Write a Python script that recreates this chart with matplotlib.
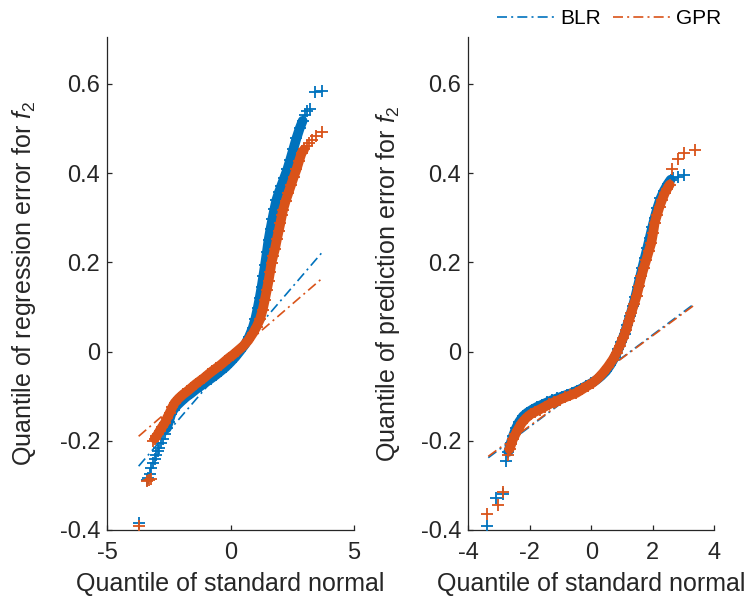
import numpy as np
import matplotlib
matplotlib.use("Agg")
import matplotlib.pyplot as plt

plt.rcParams['font.family'] = ['Liberation Sans', 'DejaVu Sans']
plt.rcParams['mathtext.fontset'] = 'custom'
plt.rcParams['mathtext.rm'] = 'Liberation Sans'
plt.rcParams['mathtext.it'] = 'Liberation Sans:italic'
plt.rcParams['axes.unicode_minus'] = False

BLUE = '#0072BD'
ORANGE = '#D95319'
DARK = '#262626'

# ---- left panel: regression error (theoretical quantile, sample quantile)
reg_blr_x = [-3.72, -3.40, -3.33, -3.27, -3.20, -3.13, -3.07, -3.00, -2.94, -2.89,
             -2.80, -2.72, -2.66, -2.58, -2.50, -2.40, -2.30, -2.15, -2.00, -1.80,
             -1.60, -1.40, -1.20, -1.00, -0.80, -0.60, -0.40, -0.20, 0.00, 0.20,
             0.40, 0.60, 0.75, 0.90, 1.00, 1.10, 1.18, 1.26, 1.33, 1.40,
             1.47, 1.54, 1.62, 1.70, 1.78, 1.86, 1.96, 2.06, 2.18, 2.30,
             2.42, 2.55, 2.67, 2.80, 2.92, 3.02, 3.10, 3.21, 3.42, 3.69]
reg_blr_y = [-0.385, -0.287, -0.283, -0.275, -0.260, -0.250, -0.242, -0.231, -0.224, -0.216,
             -0.205, -0.196, -0.186, -0.172, -0.158, -0.140, -0.130, -0.120, -0.112, -0.102,
             -0.094, -0.085, -0.077, -0.069, -0.061, -0.053, -0.044, -0.035, -0.024, -0.012,
             0.002, 0.017, 0.033, 0.053, 0.072, 0.097, 0.120, 0.145, 0.170, 0.195,
             0.222, 0.250, 0.275, 0.298, 0.320, 0.340, 0.357, 0.372, 0.390, 0.408,
             0.430, 0.455, 0.478, 0.500, 0.517, 0.530, 0.538, 0.543, 0.581, 0.585]

reg_gpr_x = [-3.72, -3.40, -3.30, -3.20, -3.14, -3.07, -3.00, -2.93, -2.87, -2.78,
             -2.66, -2.56, -2.46, -2.36, -2.26, -2.10, -1.92, -1.75, -1.58, -1.41,
             -1.24, -1.07, -0.90, -0.74, -0.57, -0.40, -0.23, -0.06, 0.11, 0.30,
             0.51, 0.72, 0.92, 1.06, 1.19, 1.30, 1.39, 1.47, 1.54, 1.60,
             1.66, 1.73, 1.80, 1.88, 1.95, 2.02, 2.08, 2.13, 2.23, 2.34,
             2.45, 2.56, 2.67, 2.78, 2.88, 2.98, 3.08, 3.18, 3.28, 3.46, 3.69]
reg_gpr_y = [-0.390, -0.290, -0.288, -0.285, -0.200, -0.195, -0.190, -0.184, -0.178, -0.170,
             -0.160, -0.148, -0.137, -0.125, -0.115, -0.105, -0.096, -0.089, -0.081, -0.073,
             -0.066, -0.059, -0.051, -0.044, -0.037, -0.030, -0.022, -0.014, -0.007, 0.002,
             0.012, 0.025, 0.042, 0.056, 0.072, 0.093, 0.116, 0.138, 0.158, 0.178,
             0.199, 0.215, 0.230, 0.252, 0.270, 0.288, 0.305, 0.318, 0.337, 0.355,
             0.373, 0.391, 0.408, 0.428, 0.445, 0.453, 0.460, 0.468, 0.475, 0.482, 0.491]

# reference lines (end points of the fitted quartile lines)
reg_blr_line_x = [-3.72, 3.69]
reg_blr_line_y = [-0.257, 0.221]
reg_gpr_line_x = [-3.72, 3.71]
reg_gpr_line_y = [-0.190, 0.164]

# ---- right panel: prediction error
pred_blr_x = [-3.38, -3.10, -2.88, -2.77, -2.70, -2.62, -2.55, -2.45, -2.35, -2.22,
              -2.08, -1.92, -1.76, -1.60, -1.44, -1.28, -1.12, -0.96, -0.80, -0.64,
              -0.48, -0.32, -0.16, 0.00, 0.16, 0.32, 0.48, 0.62, 0.76, 0.88,
              0.98, 1.08, 1.17, 1.26, 1.35, 1.43, 1.51, 1.58, 1.66, 1.74,
              1.82, 1.90, 1.98, 2.06, 2.15, 2.25, 2.36, 2.48, 2.58, 2.66, 2.82, 3.01]
pred_blr_y = [-0.391, -0.328, -0.320, -0.246, -0.225, -0.205, -0.190, -0.172, -0.158, -0.145,
              -0.137, -0.130, -0.124, -0.119, -0.114, -0.109, -0.105, -0.101, -0.097, -0.093,
              -0.088, -0.083, -0.077, -0.071, -0.064, -0.055, -0.044, -0.030, -0.013, 0.005,
              0.022, 0.040, 0.060, 0.080, 0.101, 0.122, 0.145, 0.165, 0.188, 0.210,
              0.232, 0.255, 0.278, 0.300, 0.322, 0.343, 0.360, 0.375, 0.385, 0.389, 0.391, 0.396]

pred_gpr_x = [-3.38, -3.04, -2.88, -2.72, -2.66, -2.60, -2.55, -2.47, -2.39, -2.26,
              -2.12, -1.96, -1.82, -1.68, -1.52, -1.36, -1.20, -1.03, -0.86, -0.68,
              -0.49, -0.30, -0.12, 0.05, 0.22, 0.38, 0.54, 0.70, 0.82, 0.92,
              1.03, 1.14, 1.22, 1.30, 1.39, 1.47, 1.55, 1.63, 1.71, 1.79,
              1.87, 1.95, 2.01, 2.06, 2.14, 2.22, 2.30, 2.39, 2.47, 2.55,
              2.61, 2.82, 3.01, 3.36]
pred_gpr_y = [-0.365, -0.345, -0.315, -0.232, -0.219, -0.207, -0.197, -0.186, -0.175, -0.160,
              -0.149, -0.140, -0.135, -0.130, -0.124, -0.118, -0.113, -0.108, -0.103, -0.098,
              -0.093, -0.085, -0.077, -0.070, -0.060, -0.048, -0.034, -0.018, -0.003, 0.012,
              0.030, 0.049, 0.068, 0.087, 0.106, 0.124, 0.146, 0.169, 0.188, 0.206,
              0.225, 0.243, 0.266, 0.288, 0.307, 0.325, 0.340, 0.355, 0.365, 0.374,
              0.409, 0.431, 0.445, 0.452]

pred_blr_line_x = [-3.35, 3.33]
pred_blr_line_y = [-0.238, 0.106]
pred_gpr_line_x = [-3.35, 3.33]
pred_gpr_line_y = [-0.235, 0.103]

fig = plt.figure(figsize=[7.5, 6.03], dpi=100)
ax1 = fig.add_axes([0.1427, 0.1211, 0.3293, 0.8176])
ax2 = fig.add_axes([0.6244, 0.1211, 0.3280, 0.8176])

dashdot = (0, (6, 2.5, 1.2, 2.5))
mk = dict(linestyle='none', marker='+', markersize=9, markeredgewidth=1.3, zorder=3)


def qq(ax, x, y, color, band):
    # thousands of overlapping markers look like a solid band in the middle
    i0, i1 = band
    ax.plot(x[i0:i1], y[i0:i1], color=color, lw=7, solid_capstyle='round',
            solid_joinstyle='round', zorder=3)
    ax.plot(x, y, color=color, **mk)


def style(ax):
    ax.set_ylim(-0.4, 0.705)
    ax.set_yticks([-0.4, -0.2, 0, 0.2, 0.4, 0.6])
    ax.set_yticklabels(['-0.4', '-0.2', '0', '0.2', '0.4', '0.6'])
    for s in ['top', 'right']:
        ax.spines[s].set_visible(False)
    for s in ['left', 'bottom']:
        ax.spines[s].set_color(DARK)
        ax.spines[s].set_linewidth(0.9)
    ax.tick_params(direction='in', length=3.6, width=0.9, colors=DARK, labelsize=17)
    ax.tick_params(axis='x', pad=9)
    ax.tick_params(axis='y', pad=5)
    ax.set_xlabel('Quantile of standard normal', fontsize=18, color=DARK)
    ax.xaxis.set_label_coords(0.5, -0.085)


qq(ax1, reg_blr_x, reg_blr_y, BLUE, (13, 55))
qq(ax1, reg_gpr_x, reg_gpr_y, ORANGE, (5, 56))
ax1.plot(reg_blr_line_x, reg_blr_line_y, color=BLUE, lw=1.2, linestyle=dashdot, zorder=1)
ax1.plot(reg_gpr_line_x, reg_gpr_line_y, color=ORANGE, lw=1.2, linestyle=dashdot, zorder=1)
style(ax1)
ax1.set_xlim(-5, 5)
ax1.set_xticks([-5, 0, 5])
ax1.set_ylabel(r'Quantile of regression error for $f_2$', fontsize=18, color=DARK)
ax1.yaxis.set_label_coords(-0.28, 0.5)

qq(ax2, pred_blr_x, pred_blr_y, BLUE, (4, 49))
qq(ax2, pred_gpr_x, pred_gpr_y, ORANGE, (4, 50))
l1, = ax2.plot(pred_blr_line_x, pred_blr_line_y, color=BLUE, lw=1.2, linestyle=dashdot,
               zorder=1, label='BLR')
l2, = ax2.plot(pred_gpr_line_x, pred_gpr_line_y, color=ORANGE, lw=1.2, linestyle=dashdot,
               zorder=1, label='GPR')
style(ax2)
ax2.set_xlim(-4, 4)
ax2.set_xticks([-4, -2, 0, 2, 4])
ax2.set_xticklabels(['-4', '-2', '0', '2', '4'])
ax2.set_ylabel(r'Quantile of prediction error for $f_2$', fontsize=18, color=DARK)
ax2.yaxis.set_label_coords(-0.27, 0.5)

fig.legend(handles=[l1, l2], loc='center', bbox_to_anchor=(609 / 750, 1 - 19 / 603),
           ncol=2, frameon=False, fontsize=15, handlelength=2.74, handletextpad=0.29,
           columnspacing=0.58)

fig.savefig('out.png', dpi=100)
